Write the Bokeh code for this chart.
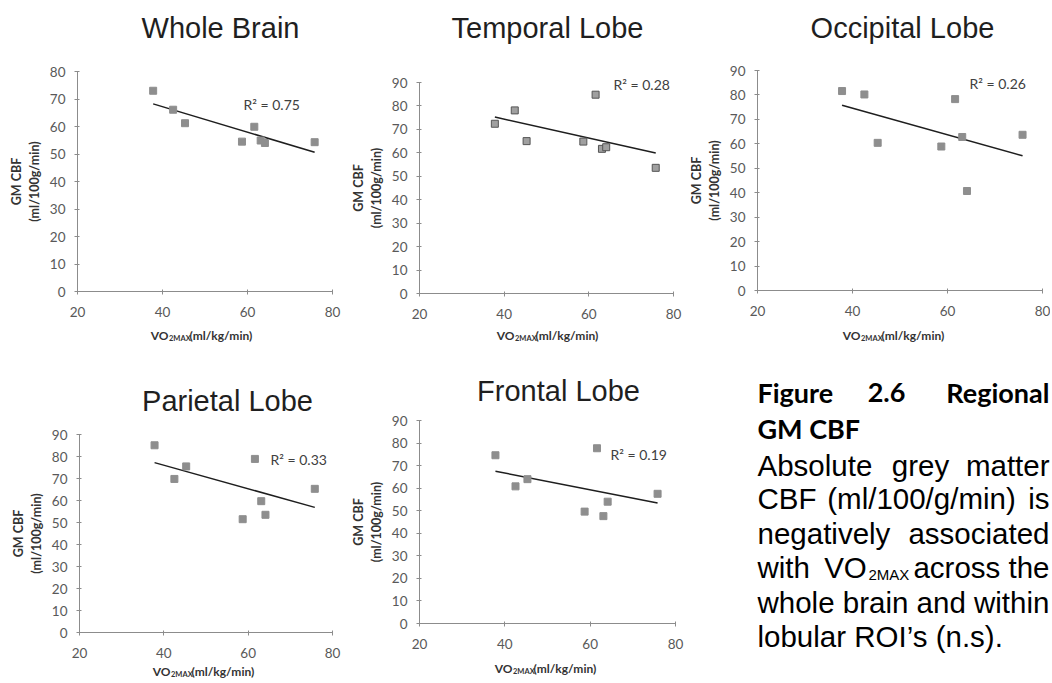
import numpy as np
from bokeh.plotting import figure
from bokeh.layouts import row, column
from bokeh.models import Range1d, Label, LinearAxis
from bokeh.embed import file_html
from bokeh.resources import INLINE
from bokeh.core.properties import value

# ---------------- data ----------------
vo2max = [37.8, 42.5, 45.3, 58.7, 61.6, 63.1, 64.1, 75.8]
whole_brain = [73.0, 66.1, 61.2, 54.5, 59.9, 54.9, 54.0, 54.3]
temporal = [72.4, 78.1, 65.0, 64.8, 84.8, 61.7, 62.4, 53.6]
occipital = [81.6, 80.2, 60.4, 58.9, 78.3, 62.8, 40.7, 63.7]
parietal = [85.1, 69.8, 75.5, 51.5, 78.9, 59.7, 53.5, 65.3]
frontal = [74.6, 60.8, 64.0, 49.6, 77.7, 47.6, 54.0, 57.5]

panel_titles = ["Whole Brain", "Temporal Lobe", "Occipital Lobe", "Parietal Lobe", "Frontal Lobe"]
r2_labels = ["R\u00b2 = 0.75", "R\u00b2 = 0.28", "R\u00b2 = 0.26", "R\u00b2 = 0.33", "R\u00b2 = 0.19"]
y_max = [80, 90, 90, 90, 90]
x_min, x_max = 20, 80
x_ticks = [20, 40, 60, 80]
y_label = "GM CBF\n(ml/100g/min)"

TICK_FONT = "Lato"
AXIS_GREY = "#8c8c8c"


def make_panel(title, yvals, ymax, r2, canvas, frame, title_xy, xlab_xy, r2_xy, edge=None):
    """canvas = (left, top, width, height) in page px; frame = (x20, x80, ytop, ybottom)."""
    cx0, cy0, w, h = canvas
    fx0, fx1, ft, fb = frame
    kx = (x_max - x_min) / (fx1 - fx0)
    ky = ymax / (fb - ft)
    xr = Range1d(x_min - (fx0 - cx0) * kx, x_min + (cx0 + w - fx0) * kx)
    yr = Range1d(0 - (cy0 + h - fb) * ky, ymax + (ft - cy0) * ky)

    p = figure(width=w, height=h, x_range=xr, y_range=yr,
               output_backend="svg", toolbar_location=None, title=None,
               x_axis_type=None, y_axis_type=None, min_border=0)
    p.outline_line_color = None
    p.grid.visible = False

    xa = LinearAxis(fixed_location=0, bounds=(x_min, x_max))
    ya = LinearAxis(fixed_location=x_min, bounds=(0, ymax))
    for ax in (xa, ya):
        ax.axis_line_color = AXIS_GREY
        ax.major_tick_line_color = AXIS_GREY
        ax.minor_tick_line_color = None
        ax.major_tick_in = 2
        ax.major_tick_out = 3
        ax.major_label_text_font = TICK_FONT
        ax.major_label_text_font_size = "13.5px"
        ax.major_label_text_color = "#595959"
    xa.ticker = x_ticks
    ya.ticker = list(range(0, ymax + 1, 10))
    xa.major_label_standoff = 12
    ya.major_label_standoff = 9
    ya.axis_label = y_label
    ya.axis_label_text_font = "Lato"
    ya.axis_label_text_font_style = "bold"
    ya.axis_label_text_font_size = "12.5px"
    ya.axis_label_text_color = "#333333"
    ya.axis_label_standoff = 5
    p.add_layout(xa, "below")
    p.add_layout(ya, "left")

    # linear trend line (least squares through the points)
    slope, icpt = np.polyfit(vo2max, yvals, 1)
    xs = [min(vo2max), max(vo2max)]
    p.line(xs, [slope * x + icpt for x in xs], line_color="#1e1e1e", line_width=1.5)

    p.scatter(vo2max, yvals, marker="square", size=7,
              fill_color="#8e8e8e" if edge is None else "#a0a0a0",
              line_color="#8e8e8e" if edge is None else edge, line_width=1)

    def sx(px):
        return px - cx0

    def sy(py):
        return (cy0 + h) - py

    p.add_layout(Label(x=sx(r2_xy[0]), y=sy(r2_xy[1]), x_units="screen", y_units="screen",
                       text=r2, text_align="left", text_baseline="middle",
                       text_font="Lato", text_font_size="14px", text_color="#404040"))

    p.add_layout(Label(x=sx(title_xy[0]), y=sy(title_xy[1]), x_units="screen", y_units="screen",
                       text=title, text_align="center", text_baseline="middle",
                       text_font="Liberation Sans", text_font_size="29px",
                       text_color="#1f1f1f"))

    # x-axis title: VO2MAX(ml/kg/min) with subscript
    lx, ly = sx(xlab_xy[0]), sy(xlab_xy[1])
    common = dict(x_units="screen", y_units="screen", text_baseline="middle",
                  text_font="Lato", text_font_style="bold", text_color="#333333")
    p.add_layout(Label(x=lx - 32, y=ly, text="VO", text_align="right",
                       text_font_size="12px", **common))
    p.add_layout(Label(x=lx - 31.5, y=ly - 3, text="2MAX", text_align="left",
                       text_font_size="7.5px", **common))
    p.add_layout(Label(x=lx - 11, y=ly, text="(ml/kg/min)", text_align="left",
                       text_font_size="12px", **common))
    return p


TOP_H, BOT_H = 346, 336

p1 = make_panel(panel_titles[0], whole_brain, y_max[0], r2_labels[0],
                (0, 0, 345, TOP_H), (77, 332, 71, 291), (220, 27), (200, 335), (243, 104))
p2 = make_panel(panel_titles[1], temporal, y_max[1], r2_labels[1],
                (345, 0, 345, TOP_H), (419, 673, 82, 293), (547, 27), (546, 335), (613, 84),
                edge="#555555")
p3 = make_panel(panel_titles[2], occipital, y_max[2], r2_labels[2],
                (690, 0, 360, TOP_H), (757, 1042, 70, 290), (902, 27), (892, 335), (969, 83))
p4 = make_panel(panel_titles[3], parietal, y_max[3], r2_labels[3],
                (0, TOP_H, 345, BOT_H), (79, 332, 434, 632), (227, 400), (202, 671), (270, 459))
p5 = make_panel(panel_titles[4], frontal, y_max[4], r2_labels[4],
                (345, TOP_H, 355, BOT_H), (419, 675, 420, 623), (558, 390), (544, 668), (610, 454))

# ---------------- caption ----------------
CAP_W, CAP_H = 350, BOT_H
cap = figure(width=CAP_W, height=CAP_H, x_range=Range1d(0, CAP_W), y_range=Range1d(CAP_H, 0),
             output_backend="svg", toolbar_location=None, title=None,
             x_axis_type=None, y_axis_type=None, min_border=0)
cap.outline_line_color = None
cap.grid.visible = False

L = 57
R = 349


def words(xs, ys, texts, align, size, style="normal", font="Liberation Sans"):
    cap.text(x=xs, y=ys, text=texts, text_align=align, text_baseline="middle",
             text_font=value(font), text_font_size=size, text_font_style=style,
             text_color="#000000")


# bold heading (justified)
words([L, L], [46, 82], ["Figure", "GM CBF"], "left", "27px", "bold", "Lato")
words([186], [46], ["2.6"], "center", "27px", "bold", "Lato")
words([R], [46], ["Regional"], "right", "27px", "bold", "Lato")

# body text (justified lines)
words([L, L, L, L, L, L], [119, 152, 187, 221, 256, 290],
      ["Absolute", "CBF", "negatively", "with", "whole brain and within",
       "lobular ROI\u2019s (n.s)."], "left", "29.5px")
words([220, 221, 145], [119, 152, 221], ["grey", "(ml/100/g/min)", "VO"], "center", "29.5px")
words([R, R, R, R], [119, 152, 187, 221], ["matter", "is", "associated", "across the"],
      "right", "29.5px")
words([168], [228], ["2MAX"], "left", "15px")

layout = column(row(p1, p2, p3), row(p4, p5, cap))

with open("out.html", "w") as f:
    f.write(file_html(layout, INLINE))
